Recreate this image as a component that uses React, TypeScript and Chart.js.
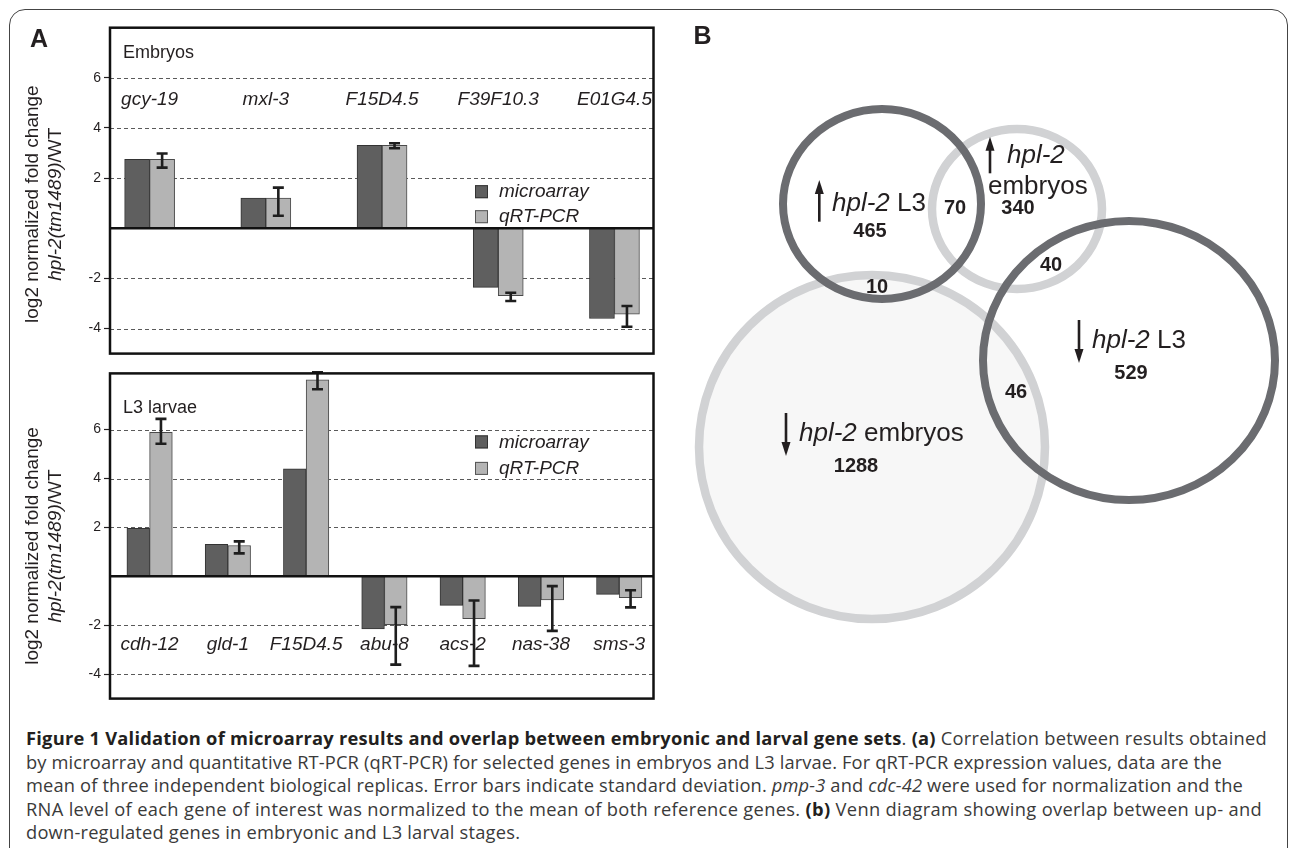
import React, { useEffect, useLayoutEffect, useRef } from 'react';
import { Chart, registerables } from 'chart.js';

Chart.register(...registerables);

const FONT = '"Liberation Sans", Arial, Helvetica, sans-serif';

// ---------- Panel A data ----------
const seriesLabels = ['microarray', 'qRT-PCR'];
const yTickValues = [-4, -2, 2, 4, 6];

const embryoGenes = ['gcy-19', 'mxl-3', 'F15D4.5', 'F39F10.3', 'E01G4.5'];
const embryoMicroarray = [2.75, 1.2, 3.31, -2.36, -3.6];
const embryoQrtPcr = [2.75, 1.2, 3.31, -2.69, -3.43];
const embryoErrLow = [2.42, 0.5, 3.19, -2.9, -3.93];
const embryoErrHigh = [2.98, 1.62, 3.39, -2.57, -3.1];

const larvaeGenes = ['cdh-12', 'gld-1', 'F15D4.5', 'abu-8', 'acs-2', 'nas-38', 'sms-3'];
const larvaeMicroarray = [1.96, 1.31, 4.4, -2.15, -1.19, -1.23, -0.74];
const larvaeQrtPcr = [5.89, 1.26, 8.04, -1.98, -1.73, -0.96, -0.87];
const larvaeErrLow = [5.42, 0.94, 7.65, -3.61, -3.66, -2.23, -1.27];
const larvaeErrHigh = [6.44, 1.43, 8.35, -1.26, -0.99, -0.4, -0.57];

// ---------- Panel B data ----------
const vennDirections = ['up', 'up', 'down', 'down'];
const vennTitles = [['hpl-2', ' L3'], ['hpl-2', ''], ['hpl-2', ' L3'], ['hpl-2', ' embryos']];
const vennUniqueCounts = ['465', '340', '529', '1288'];
const vennOverlapCounts = ['70', '40', '10', '46'];
const vennCx = [202, 337, 449, 192];
const vennCy = [204, 209, 360.5, 447];
const vennRx = [99, 85, 146, 173];
const vennRy = [95, 80, 139.5, 172];

const DARK_BAR = '#5f5f5f';
const LIGHT_BAR = '#b4b4b4';

type Run = { t: string; font: string };
function drawRuns(ctx: CanvasRenderingContext2D, runs: Run[], x: number, y: number, align: 'left' | 'center') {
  let total = 0;
  for (const r of runs) { ctx.font = r.font; total += ctx.measureText(r.t).width; }
  let cx = align === 'center' ? x - total / 2 : x;
  ctx.textAlign = 'left';
  for (const r of runs) { ctx.font = r.font; ctx.fillText(r.t, cx, y); cx += ctx.measureText(r.t).width; }
}

type PanelCfg = {
  genes: string[]; micro: number[]; qrt: number[]; errLow: number[]; errHigh: number[];
  xMin: number; xMax: number; yMin: number; yMax: number; barThickness: number;
  padTop: number; padBottom: number; padRight: number; axisWidth: number;
  geneLabelY: number; panelLabel: string; panelLabelDy: number;
  legendX: number; legendDy: number[]; titleDy: number;
};

function makeBarChart(canvas: HTMLCanvasElement, c: PanelCfg) {
  const decor = {
    id: 'barDecor',
    beforeDatasetsDraw(chart: any) {
      const { ctx, chartArea: a, scales: { y } } = chart;
      ctx.save();
      ctx.strokeStyle = '#5a5a5a';
      ctx.lineWidth = 1;
      ctx.setLineDash([4, 3]);
      for (const v of yTickValues) {
        const py = Math.round(y.getPixelForValue(v)) + 0.5;
        ctx.beginPath(); ctx.moveTo(a.left, py); ctx.lineTo(a.right, py); ctx.stroke();
      }
      ctx.restore();
    },
    afterDatasetsDraw(chart: any) {
      const { ctx, chartArea: a, scales: { x, y } } = chart;
      ctx.save();
      ctx.strokeStyle = '#111'; ctx.lineWidth = 2.5; ctx.setLineDash([]);
      const py0 = y.getPixelForValue(0);
      ctx.beginPath(); ctx.moveTo(a.left, py0); ctx.lineTo(a.right, py0); ctx.stroke();
      const meta = chart.getDatasetMeta(1);
      ctx.strokeStyle = '#1e1e1e'; ctx.lineWidth = 2.6;
      c.qrt.forEach((_, i) => {
        const bx = meta.data[i].x;
        const yh = y.getPixelForValue(c.errHigh[i]);
        const yl = y.getPixelForValue(c.errLow[i]);
        ctx.beginPath();
        ctx.moveTo(bx, yh); ctx.lineTo(bx, yl);
        ctx.moveTo(bx - 5.5, yh); ctx.lineTo(bx + 5.5, yh);
        ctx.moveTo(bx - 5.5, yl); ctx.lineTo(bx + 5.5, yl);
        ctx.stroke();
      });
      ctx.strokeStyle = '#111'; ctx.lineWidth = 2.5;
      ctx.strokeRect(a.left, a.top, a.right - a.left, a.bottom - a.top);
      ctx.fillStyle = '#231f20';
      ctx.font = `italic 19px ${FONT}`;
      ctx.textAlign = 'center'; ctx.textBaseline = 'middle';
      c.genes.forEach((g, i) => {
        ctx.fillText(g, x.getPixelForValue(i), y.getPixelForValue(c.geneLabelY));
      });
      ctx.font = `18px ${FONT}`;
      ctx.textAlign = 'left';
      ctx.fillText(c.panelLabel, a.left + 13, a.top + c.panelLabelDy);
      const fills = [DARK_BAR, LIGHT_BAR];
      const borders = ['#333', '#555'];
      seriesLabels.forEach((lab, i) => {
        const cy = a.top + c.legendDy[i];
        ctx.fillStyle = fills[i];
        ctx.fillRect(c.legendX, cy - 6.5, 13, 13);
        ctx.strokeStyle = borders[i]; ctx.lineWidth = 1;
        ctx.strokeRect(c.legendX + 0.5, cy - 6, 12, 12);
        ctx.fillStyle = '#231f20';
        ctx.font = `italic 19px ${FONT}`;
        ctx.textBaseline = 'middle';
        ctx.fillText(lab, c.legendX + 24, cy + 0.5);
      });
      const cyT = (a.top + a.bottom) / 2 + c.titleDy;
      ctx.fillStyle = '#231f20';
      ctx.textBaseline = 'alphabetic';
      ctx.save();
      ctx.translate(38, cyT); ctx.rotate(-Math.PI / 2);
      drawRuns(ctx, [{ t: 'log2 normalized fold change', font: `19px ${FONT}` }], 0, 0, 'center');
      ctx.restore();
      ctx.save();
      ctx.translate(61, cyT); ctx.rotate(-Math.PI / 2);
      drawRuns(ctx, [
        { t: 'hpl-2(tm1489)', font: `italic 19px ${FONT}` },
        { t: '/WT', font: `19px ${FONT}` },
      ], 0, 0, 'center');
      ctx.restore();
      ctx.restore();
    },
  };

  return new Chart(canvas, {
    type: 'bar',
    data: {
      datasets: [
        {
          label: seriesLabels[0],
          data: c.micro.map((v, i) => ({ x: i, y: v })),
          backgroundColor: DARK_BAR, borderColor: '#333', borderWidth: 1,
          barThickness: c.barThickness,
        },
        {
          label: seriesLabels[1],
          data: c.qrt.map((v, i) => ({ x: i, y: v })),
          backgroundColor: LIGHT_BAR, borderColor: '#4a4a4a', borderWidth: 1,
          barThickness: c.barThickness,
        },
      ],
    } as any,
    options: {
      animation: false,
      responsive: false,
      maintainAspectRatio: false,
      layout: { padding: { left: 0, right: c.padRight, top: c.padTop, bottom: c.padBottom } },
      scales: {
        x: { type: 'linear', min: c.xMin, max: c.xMax, display: false, offset: false },
        y: {
          type: 'linear', min: c.yMin, max: c.yMax,
          afterBuildTicks: (s: any) => { s.ticks = yTickValues.map((v) => ({ value: v })); },
          afterFit: (s: any) => { s.width = c.axisWidth; },
          ticks: { font: { size: 14, family: FONT }, color: '#231f20', padding: 3 },
          grid: { drawOnChartArea: false, drawTicks: true, tickLength: 6, tickColor: '#231f20', tickWidth: 1.2 },
          border: { display: false },
        },
      },
      plugins: { legend: { display: false }, tooltip: { enabled: false } },
    } as any,
    plugins: [decor],
  });
}

function makeVenn(canvas: HTMLCanvasElement) {
  const titlePos = [[152, 210.7], [327, 162.7], [412, 347.7], [119, 440.7]];
  const arrowPos = [[139.3, 180, 221.7], [310, 136.7, 173.3], [399, 363, 320], [106, 456, 413]];
  const uniquePos = [[190, 231.7], [338, 208], [451, 373], [176, 466.7]];
  const overlapPos = [[275, 208], [371, 265], [197, 287], [336, 392.7]];
  const ringColor = ['#6b6c70', '#d1d2d4', '#6b6c70', '#d1d2d4'];
  const ringWidth = [8, 8.5, 8, 8.5];
  const venn = {
    id: 'venn',
    afterDatasetsDraw(chart: any) {
      const { ctx, scales: { x, y } } = chart;
      const px = (v: number) => x.getPixelForValue(v);
      const py = (v: number) => y.getPixelForValue(v);
      const ell = (i: number) => {
        ctx.beginPath();
        ctx.ellipse(px(vennCx[i]), py(vennCy[i]), Math.abs(px(vennCx[i] + vennRx[i]) - px(vennCx[i])),
          Math.abs(py(vennCy[i] + vennRy[i]) - py(vennCy[i])), 0, 0, Math.PI * 2);
      };
      ctx.save();
      ell(3); ctx.fillStyle = '#f7f7f7'; ctx.fill();
      for (const i of [3, 1, 0, 2]) {
        ell(i); ctx.strokeStyle = ringColor[i]; ctx.lineWidth = ringWidth[i]; ctx.stroke();
      }
      ctx.fillStyle = '#231f20';
      ctx.strokeStyle = '#231f20';
      ctx.textBaseline = 'alphabetic';
      const italic = `italic 26px ${FONT}`;
      const normal = `26px ${FONT}`;
      vennTitles.forEach((t, i) => {
        const [tx, ty] = titlePos[i];
        drawRuns(ctx, [{ t: t[0], font: italic }, { t: t[1], font: normal }], px(tx), py(ty), 'left');
      });
      drawRuns(ctx, [{ t: 'embryos', font: normal }], px(308), py(194), 'left');
      vennDirections.forEach((d, i) => {
        const [ax, tip, tail] = arrowPos[i];
        const X = px(ax), T = py(tip), L = py(tail);
        const dir = T < L ? 1 : -1;
        ctx.lineWidth = 2.6;
        ctx.beginPath(); ctx.moveTo(X, L); ctx.lineTo(X, T + dir * 10); ctx.stroke();
        ctx.beginPath(); ctx.moveTo(X, T); ctx.lineTo(X - 4.5, T + dir * 14); ctx.lineTo(X + 4.5, T + dir * 14); ctx.closePath(); ctx.fill();
      });
      ctx.font = `bold 20px ${FONT}`;
      ctx.textAlign = 'center'; ctx.textBaseline = 'middle';
      vennUniqueCounts.forEach((n, i) => ctx.fillText(n, px(uniquePos[i][0]), py(uniquePos[i][1])));
      vennOverlapCounts.forEach((n, i) => ctx.fillText(n, px(overlapPos[i][0]), py(overlapPos[i][1])));
      ctx.restore();
    },
  };
  return new Chart(canvas, {
    type: 'scatter',
    data: { datasets: [{ data: vennCx.map((v, i) => ({ x: v, y: vennCy[i] })), pointRadius: 0 }] },
    options: {
      animation: false, responsive: false, maintainAspectRatio: false,
      layout: { padding: 0 },
      scales: {
        x: { type: 'linear', min: 0, max: 610, display: false },
        y: { type: 'linear', min: 0, max: 700, reverse: true, display: false },
      },
      plugins: { legend: { display: false }, tooltip: { enabled: false } },
    } as any,
    plugins: [venn],
  });
}

const B = (t: string) => <b style={{ color: '#231f20' }}>{t}</b>;
const captionLines: React.ReactNode[] = [
  <>{B('Figure 1 Validation of microarray results and overlap between embryonic and larval gene sets')}. {B('(a)')} Correlation between results obtained</>,
  <>by microarray and quantitative RT-PCR (qRT-PCR) for selected genes in embryos and L3 larvae. For qRT-PCR expression values, data are the</>,
  <>mean of three independent biological replicas. Error bars indicate standard deviation. <i>pmp-3</i> and <i>cdc-42</i> were used for normalization and the</>,
  <>RNA level of each gene of interest was normalized to the mean of both reference genes. {B('(b)')} Venn diagram showing overlap between up- and</>,
  <>down-regulated genes in embryonic and L3 larval stages.</>,
];
// right ends of the justified caption lines (line 5 is ragged)
const captionLineEnds = [1267, 1222, 1243, 1262, 0];
const CAPTION_LEFT = 26;

export default function App() {
  const topRef = useRef<HTMLCanvasElement>(null);
  const botRef = useRef<HTMLCanvasElement>(null);
  const vennRef = useRef<HTMLCanvasElement>(null);
  const capRefs = useRef<(HTMLDivElement | null)[]>([]);

  useLayoutEffect(() => {
    const spacings: number[] = [];
    capRefs.current.forEach((el, k) => {
      if (!el) return;
      const target = captionLineEnds[k];
      if (!target) return;
      el.style.letterSpacing = '0px';
      const w = el.getBoundingClientRect().width;
      const n = (el.textContent || '').length;
      const ls = (target - CAPTION_LEFT - w) / Math.max(1, n);
      if (k > 0) spacings.push(ls);
      el.style.letterSpacing = `${ls}px`;
    });
    const last = capRefs.current[4];
    if (last && spacings.length) {
      const avg = spacings.reduce((s, v) => s + v, 0) / spacings.length;
      last.style.letterSpacing = `${avg}px`;
    }
  }, []);

  useEffect(() => {
    const charts: Chart[] = [];
    if (topRef.current) {
      charts.push(makeBarChart(topRef.current, {
        genes: embryoGenes, micro: embryoMicroarray, qrt: embryoQrtPcr, errLow: embryoErrLow, errHigh: embryoErrHigh,
        xMin: -0.341, xMax: 4.336, yMin: -5, yMax: 8, barThickness: 25,
        padTop: 27.7, padBottom: 7.7, padRight: 26.5, axisWidth: 110,
        geneLabelY: 5.13, panelLabel: 'Embryos', panelLabelDy: 25.6,
        legendX: 475, legendDy: [164, 189], titleDy: 13.5,
      }));
    }
    if (botRef.current) {
      charts.push(makeBarChart(botRef.current, {
        genes: larvaeGenes, micro: larvaeMicroarray, qrt: larvaeQrtPcr, errLow: larvaeErrLow, errHigh: larvaeErrHigh,
        xMin: -0.506, xMax: 6.438, yMin: -5, yMax: 8.3, barThickness: 22.7,
        padTop: 3.7, padBottom: 7.3, padRight: 26.5, axisWidth: 110,
        geneLabelY: -2.79, panelLabel: 'L3 larvae', panelLabelDy: 34.3,
        legendX: 475, legendDy: [68.5, 95], titleDy: 10,
      }));
    }
    if (vennRef.current) charts.push(makeVenn(vennRef.current));
    return () => charts.forEach((ch) => ch.destroy());
  }, []);

  const abs = (l: number, t: number, w: number, h: number): React.CSSProperties => ({
    position: 'absolute', left: l, top: t, width: w, height: h,
  });

  return (
    <div style={{ position: 'absolute', left: 0, top: 0, width: 1290, height: 848, overflow: 'hidden', background: '#fff' }}>
      <div style={{ position: 'absolute', left: 9, top: 9, width: 1279, height: 1000, border: '1.5px solid #444', borderRadius: 16, boxSizing: 'border-box' }} />
      <canvas ref={topRef} width={680} height={365} style={abs(0, 0, 680, 365)} />
      <canvas ref={botRef} width={680} height={348} style={abs(0, 362, 680, 348)} />
      <canvas ref={vennRef} width={610} height={700} style={abs(680, 0, 610, 700)} />
      <div style={{ position: 'absolute', left: 30, top: 25.8, fontFamily: FONT, fontWeight: 'bold', fontSize: 25, lineHeight: '25px', color: '#231f20' }}>A</div>
      <div style={{ position: 'absolute', left: 693.6, top: 23.4, fontFamily: FONT, fontWeight: 'bold', fontSize: 25, lineHeight: '25px', color: '#231f20' }}>B</div>
      {captionLines.map((line, k) => (
        <div key={k} ref={(el) => { capRefs.current[k] = el; }} style={{
          position: 'absolute', left: CAPTION_LEFT, top: 738 + 23.4 * k - 11.7, whiteSpace: 'nowrap',
          fontFamily: '"Open Sans", sans-serif', fontSize: 18.3, lineHeight: '23.4px', color: '#3a3a3a',
        }}>{line}</div>
      ))}
    </div>
  );
}
